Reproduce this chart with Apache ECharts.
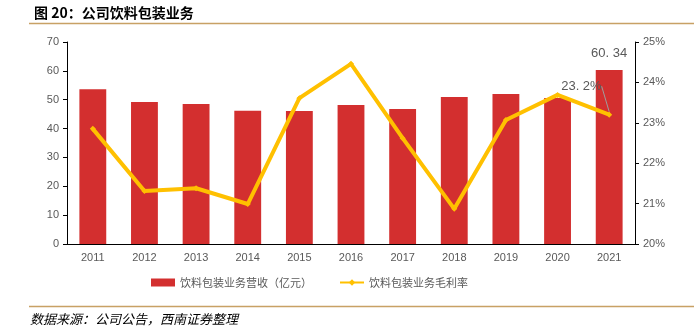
<!DOCTYPE html>
<html><head><meta charset="utf-8">
<script src="https://cdn.jsdelivr.net/npm/echarts@6/dist/echarts.min.js"></script>
<style>html,body{margin:0;padding:0;background:#fff}#c{width:694px;height:331px}</style>
</head><body><div id="c"></div>
<script>
var years = ['2011','2012','2013','2014','2015','2016','2017','2018','2019','2020','2021'];
var revenue = [53.6, 49.2, 48.5, 46.2, 46.1, 48.2, 46.8, 50.9, 52.0, 50.6, 60.34];
var margin = [22.85, 21.31, 21.38, 20.99, 23.61, 24.46, 22.62, 20.87, 23.07, 23.69, 23.2];
var leftTicks = [0, 70, 10];
var rightTicks = [20, 25, 1];

var font = '"Noto Sans CJK SC", "Liberation Sans", sans-serif';
var numFont = '"Liberation Sans", Arial, sans-serif';
var chart = echarts.init(document.getElementById('c'), null, {renderer: 'canvas'});
chart.setOption({
  animation: false,
  textStyle: {fontFamily: font},
  title: {
    text: '图 20：公司饮料包装业务', left: 29, top: 1,
    textStyle: {fontSize: 14, fontWeight: 'bold', color: '#000', fontFamily: font}
  },
  graphic: [
    {type: 'line', shape: {x1: 29, y1: 23.5, x2: 694, y2: 23.5}, style: {stroke: '#C8A165', lineWidth: 1.5}},
    {type: 'line', shape: {x1: 29, y1: 306.5, x2: 694, y2: 306.5}, style: {stroke: '#C8A165', lineWidth: 1.5}},
    {type: 'text', left: 30, top: 313, style: {text: '数据来源：公司公告，西南证券整理', font: 'italic 13px ' + font, fill: '#000'}}
  ],
  grid: {left: 67, right: 59, top: 42, bottom: 87},
  legend: {
    bottom: 38, left: 146, itemGap: 27, itemWidth: 24, itemHeight: 8,
    textStyle: {fontSize: 11, color: '#595959', fontFamily: font},
    data: [
      {name: '饮料包装业务营收（亿元）', icon: 'rect'},
      {name: '饮料包装业务毛利率'}
    ]
  },
  xAxis: {
    type: 'category', data: years,
    axisLine: {lineStyle: {color: '#000', width: 1}},
    axisTick: {show: false},
    axisLabel: {color: '#595959', fontSize: 11, margin: 8, fontFamily: numFont}
  },
  yAxis: [
    {
      type: 'value', min: leftTicks[0], max: leftTicks[1], interval: leftTicks[2],
      axisLine: {show: true, lineStyle: {color: '#000'}},
      axisTick: {show: true, length: 4, lineStyle: {color: '#000'}},
      axisLabel: {color: '#595959', fontSize: 11, margin: 8, fontFamily: numFont},
      splitLine: {show: false}
    },
    {
      type: 'value', min: rightTicks[0], max: rightTicks[1], interval: rightTicks[2],
      axisLine: {show: true, lineStyle: {color: '#000'}},
      axisTick: {show: true, length: 4, lineStyle: {color: '#000'}},
      axisLabel: {color: '#595959', fontSize: 11, margin: 8, formatter: '{value}%', fontFamily: numFont},
      splitLine: {show: false}
    }
  ],
  series: [
    {
      name: '饮料包装业务营收（亿元）', type: 'bar', yAxisIndex: 0, barWidth: '52%',
      data: revenue.map(function (v, i) {
        return i === revenue.length - 1 ? {value: v, label: {show: true, position: 'top', distance: 10, color: '#595959', fontSize: 13, fontFamily: numFont, formatter: function (p) { return p.value.toFixed(2).replace('.', '. '); }}} : v;
      }),
      itemStyle: {color: '#D32F2F'},
      z: 2
    },
    {
      name: '饮料包装业务毛利率', type: 'line', yAxisIndex: 1,
      data: margin.map(function (v, i) {
        return i === margin.length - 1 ? {value: v, label: {show: true, color: '#595959', fontSize: 13, fontFamily: numFont, formatter: function (p) { return p.value.toFixed(1).replace('.', '. ') + '%'; }}, labelLine: {show: true, lineStyle: {color: '#9E9E9E', width: 1}}} : v;
      }),
      symbol: 'diamond', symbolSize: 6, showSymbol: true,
      itemStyle: {color: '#FFC000'},
      lineStyle: {color: '#FFC000', width: 4},
      labelLayout: function (params) {
        if (params.dataIndex === margin.length - 1) {
          var out = {x: params.rect.x - 45, y: params.rect.y - 32};
          var pts = params.labelLinePoints;
          if (pts && pts.length) {
            var a = pts[pts.length - 1];
            out.labelLinePoints = [[a[0] - 10, a[1] - 31], [a[0] - 4, a[1] - 31], [a[0], a[1]]];
          }
          return out;
        }
      },
      z: 3
    }
  ]
});
</script></body></html>
